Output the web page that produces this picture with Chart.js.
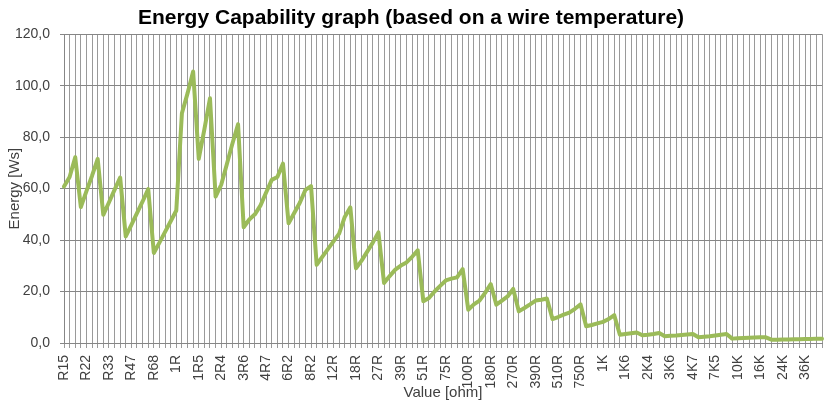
<!DOCTYPE html>
<html>
<head>
<meta charset="utf-8">
<script src="https://cdn.jsdelivr.net/npm/chart.js@4/dist/chart.umd.min.js"></script>
<style>
  html, body { margin: 0; padding: 0; background: #fff; }
  #wrap { width: 824px; height: 405px; }
</style>
</head>
<body>
<div id="wrap"><canvas id="chart"></canvas></div>
<script>
// resistor values (category axis), only every 4th one is labelled
const values = [
  'R15', 'R16', 'R18', 'R20', 'R22', 'R24', 'R27', 'R30', 'R33', 'R36', 'R39', 'R43',
  'R47', 'R51', 'R56', 'R62', 'R68', 'R75', 'R82', 'R91', '1R', '1R1', '1R2', '1R3',
  '1R5', '1R8', '2R', '2R2', '2R4', '2R7', '3R', '3R3', '3R6', '3R9', '4R', '4R3',
  '4R7', '5R', '5R1', '5R6', '6R2', '6R8', '7R', '7R5', '8R2', '9R1', '10R', '11R',
  '12R', '13R', '15R', '16R', '18R', '20R', '22R', '24R', '27R', '30R', '33R', '36R',
  '39R', '43R', '47R', '50R', '51R', '56R', '62R', '68R', '75R', '80R', '82R', '91R',
  '100R', '120R', '130R', '150R', '180R', '200R', '220R', '240R', '270R', '300R', '330R', '360R',
  '390R', '430R', '470R', '500R', '510R', '560R', '620R', '680R', '750R', '800R', '820R', '910R',
  '1K', '1K1', '1K2', '1K5', '1K6', '1K8', '2K', '2K2', '2K4', '2K7', '3K', '3K3',
  '3K6', '3K9', '4K', '4K3', '4K7', '5K1', '5K6', '6K8', '7K5', '8K2', '9K1', '9K5',
  '10K', '11K', '12K', '15K', '16K', '18K', '20K', '22K', '24K', '27K', '30K', '33K',
  '36K', '39K', '43K', '47K'
];

// energy capability [Ws]
const energy = [
  60.8, 64.5, 72.2, 52.8, 59, 65, 71.5, 49.8, 54.6, 59.5, 64.3, 41.4,
  45.9, 50.5, 55, 59.8, 35, 39, 43.2, 47.3, 51.5, 89.3, 97, 105.5,
  71.6, 83, 95.1, 56.9, 61.5, 69.5, 77.5, 85, 45, 48, 50, 53.5,
  58.5, 63.4, 64.5, 69.7, 46.5, 50.5, 54.5, 59.5, 61, 30.4, 33.5, 36.5,
  39.5, 42.5, 49, 52.7, 29, 32, 35.5, 39, 43, 23.3, 26, 28.5,
  30.1, 31.3, 33.5, 36, 16.2, 17.5, 20, 22.2, 24.3, 25, 25.5, 28.7,
  12.9, 15, 16.5, 19.5, 22.9, 14.9, 16.5, 18.1, 21, 12.3, 13.6, 15,
  16.5, 16.8, 17.3, 9.3, 10.1, 11, 11.8, 13.3, 15, 6.5, 7, 7.6,
  8.2, 9.3, 10.8, 3.2, 3.5, 3.8, 4.1, 3.0, 3.2, 3.5, 3.9, 2.6,
  2.8, 2.9, 3.1, 3.3, 3.5, 2.2, 2.4, 2.6, 2.9, 3.2, 3.5, 1.7,
  1.8, 1.9, 2.0, 2.1, 2.2, 2.2, 1.3, 1.3, 1.4, 1.4, 1.5, 1.5,
  1.6, 1.6, 1.7, 1.7
];

const yTicks = [0, 20, 40, 60, 80, 100, 120];
const labelEvery = 4;

const tickColor = '#404040';
const font = '"Liberation Sans", Arial, sans-serif';

new Chart(document.getElementById('chart'), {
  type: 'line',
  data: {
    labels: values,
    datasets: [{
      data: energy,
      borderColor: '#9bbb59',
      borderWidth: 4,
      borderJoinStyle: 'round',
      borderCapStyle: 'round',
      pointRadius: 0,
      tension: 0,
      fill: false,
    }],
  },
  options: {
    responsive: true,
    maintainAspectRatio: false,
    animation: false,
    layout: { padding: { left: 0, right: 2, top: 0, bottom: 0 } },
    plugins: {
      legend: { display: false },
      tooltip: { enabled: false },
      title: {
        display: true,
        text: 'Energy Capability graph (based on a wire temperature)',
        color: '#000',
        font: { family: font, size: 21, weight: 'bold' },
        padding: { top: 6, bottom: 3 },
      },
    },
    scales: {
      x: {
        offset: false,
        grid: { color: '#9a9a9a', lineWidth: 1, tickLength: 5 },
        border: { color: '#868686' },
        ticks: {
          autoSkip: false,
          maxRotation: 90,
          minRotation: 90,
          padding: 7,
          color: tickColor,
          font: { family: font, size: 14 },
          callback: (v, i) => (i % labelEvery === 0 ? values[i] : ''),
        },
        title: {
          display: true,
          text: 'Value [ohm]',
          color: tickColor,
          font: { family: font, size: 15 },
          padding: { top: 0, bottom: 3 },
        },
        afterFit: (scale) => {
          scale.height = 62;
          scale.paddingLeft = 0;
          scale.paddingRight = 0;
        },
      },
      y: {
        min: yTicks[0],
        max: yTicks[yTicks.length - 1],
        grid: { color: '#868686', lineWidth: 1, tickLength: 4 },
        border: { color: '#868686' },
        ticks: {
          stepSize: yTicks[1] - yTicks[0],
          padding: 10,
          color: tickColor,
          font: { family: font, size: 14 },
          callback: (v) => v.toFixed(1).replace('.', ','),
        },
        title: {
          display: true,
          text: 'Energy [Ws]',
          color: tickColor,
          font: { family: font, size: 15 },
          padding: { top: 6, bottom: 0 },
        },
        afterFit: (scale) => { scale.width = 64; },
      },
    },
  },
});
</script>
</body>
</html>
